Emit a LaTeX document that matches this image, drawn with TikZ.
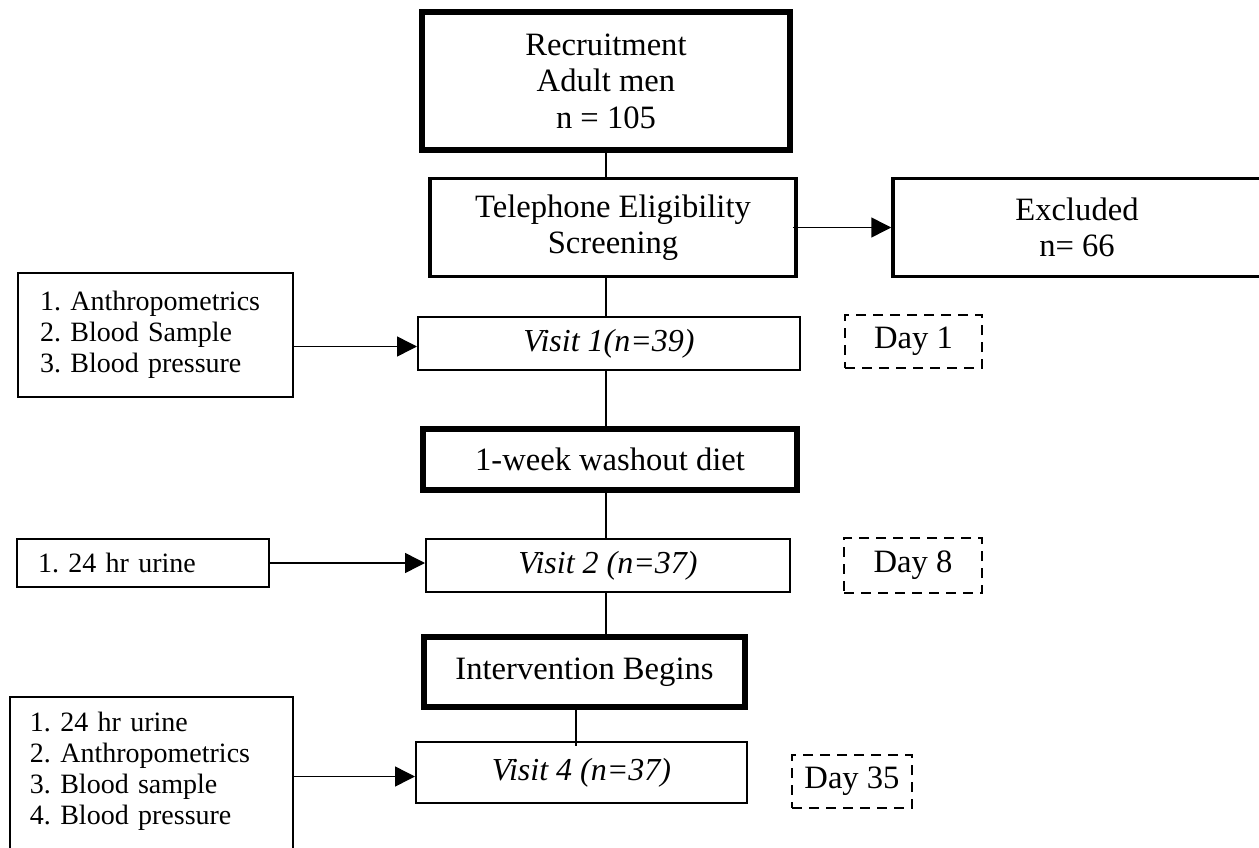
\documentclass[tikz,border=0pt]{standalone}
\usepackage{fontspec}
\setmainfont{Liberation Serif}
\usetikzlibrary{arrows.meta}
\frenchspacing
\begin{document}
\begin{tikzpicture}[x=1pt,y=-1pt,
  box/.style={draw, rectangle, inner sep=0pt, align=center, font=\fontsize{32.6}{36.5}\selectfont},
  thickbox/.style={box, line width=6pt},
  midbox/.style={box, line width=3.5pt},
  visit/.style={box, line width=2pt, font=\fontsize{32}{37}\selectfont\itshape},
  daybox/.style={box, line width=2pt, dash pattern=on 10pt off 7pt},
  listbox/.style={draw, line width=2pt, rectangle, inner sep=0pt, align=left, font=\fontsize{28}{31}\selectfont\frenchspacing},
  link/.style={line width=1.5pt},
  arr/.style={line width=1.5pt, -{Triangle[length=20pt,width=20pt]}}
]
\clip (0,0) rectangle (1259,848);
\fill[white] (0,0) rectangle (1259,848);

\node[thickbox, minimum width=368pt, minimum height=137.5pt] (rec) at (606,81) {Recruitment\\Adult men\\n = 105};
\node[midbox, minimum width=366pt, minimum height=98pt] (tel) at (613,227.5) {Telephone Eligibility\\Screening};
\node[midbox, minimum width=368pt, minimum height=98pt] (exc) at (1077,227.5) {Excluded\\n= 66};
\node[listbox, minimum width=275pt, minimum height=124pt, text width=231pt] (lb1) at (155.5,335) {1. Anthropometrics\\2. Blood Sample\\3. Blood pressure};
\node[visit, minimum width=382pt, minimum height=53pt] (v1) at (609,343.5) {Visit 1(n=39)};
\node[daybox, minimum width=137pt, minimum height=53pt] (d1) at (913.5,341.5) {Day 1};
\node[thickbox, minimum width=374.5pt, minimum height=61pt] (wash) at (610,459.5) {1-week washout diet};
\node[listbox, minimum width=252pt, minimum height=48pt, text width=210pt] (lb2) at (143,563) {1. 24 hr urine};
\node[visit, minimum width=364pt, minimum height=53pt] (v2) at (608,565.5) {Visit 2 (n=37)};
\node[daybox, minimum width=138pt, minimum height=55pt] (d8) at (913,565.5) {Day 8};
\node[thickbox, minimum width=321pt, minimum height=70.5pt] (int) at (584.5,672) {Intervention Begins};
\node[visit, minimum width=331pt, minimum height=61pt] (v4) at (581.5,772.5) {Visit 4 (n=37)};
\node[daybox, minimum width=120pt, minimum height=53pt] (d35) at (852,781.5) {Day 35};
\node[listbox, minimum width=283pt, minimum height=173pt, text width=243pt] (lb3) at (151.5,783.5) {1. 24 hr urine\\2. Anthropometrics\\3. Blood sample\\4. Blood pressure\\\mbox{}};

\coordinate (spine) at (606,0);
\coordinate (spinetwo) at (576,0);

\draw[link] (rec.south -| spine) -- (tel.north -| spine);
\draw[link] (tel.south -| spine) -- (v1.north -| spine);
\draw[link] (v1.south -| spine) -- (wash.north -| spine);
\draw[link] (wash.south -| spine) -- (v2.north -| spine);
\draw[link] (v2.south -| spine) -- (int.north -| spine);
\draw[link] (int.south -| spinetwo) -- ([yshift=-5pt]v4.north -| spinetwo);

\draw[arr] ([xshift=-5pt]tel.east) -- (exc.west);
\draw[arr] ([yshift=-3pt]lb1.east |- v1.west) -- ([yshift=-3pt]v1.west);
\draw[arr] (lb2.east) -- (lb2.east -| v2.west);
\draw[arr] ([yshift=-4pt]lb3.east |- v4.west) -- ([yshift=-4pt]v4.west);
\end{tikzpicture}
\end{document}
